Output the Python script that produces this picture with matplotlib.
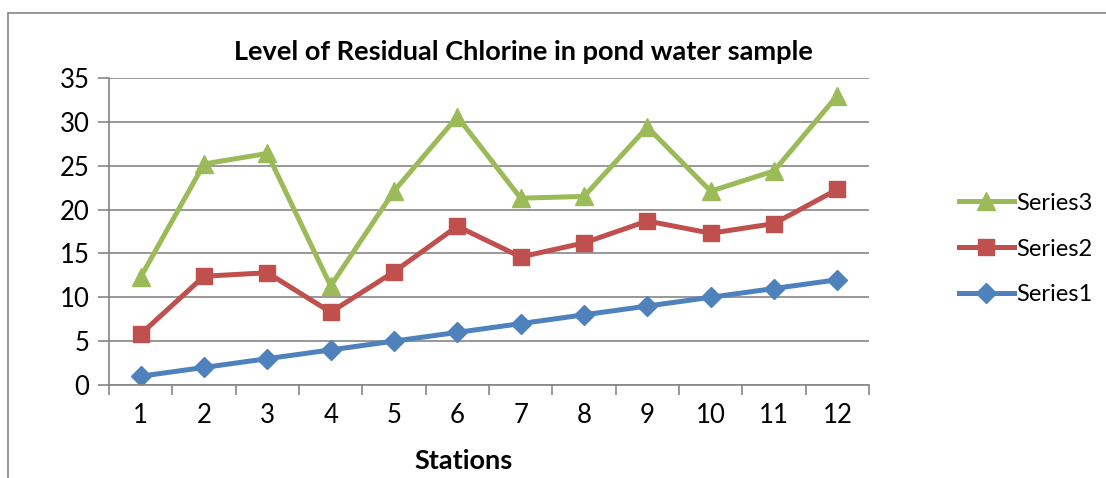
import matplotlib.pyplot as plt
from matplotlib.patches import Rectangle

stations = ["1", "2", "3", "4", "5", "6", "7", "8", "9", "10", "11", "12"]
series1 = [1, 2, 3, 4, 5, 6, 7, 8, 9, 10, 11, 12]
series2 = [5.8, 12.4, 12.8, 8.3, 12.9, 18.1, 14.6, 16.2, 18.7, 17.3, 18.4, 22.3]
series3 = [12.3, 25.2, 26.4, 11.3, 22.1, 30.6, 21.3, 21.5, 29.4, 22.1, 24.4, 33.0]

plt.rcParams['font.family'] = ['Lato', 'DejaVu Sans']

fig = plt.figure(figsize=(11.06, 4.78), dpi=100)
W, H = 1106, 478
# outer chart frame
fig.patches.append(Rectangle((8 / W, -0.1), 1.2, 1 - 13 / H + 0.1, transform=fig.transFigure,
                             fill=False, edgecolor='#868686', linewidth=1.2))

ax = fig.add_axes([109 / W, 1 - 385 / H, (869 - 109) / W, (385 - 78) / H])

x = [i + 0.5 for i in range(len(stations))]
ax.plot(x, series3, color='#9BBB59', lw=3.6, marker='^', ms=13, label='Series3')
ax.plot(x, series2, color='#C0504D', lw=3.6, marker='s', ms=11, label='Series2')
ax.plot(x, series1, color='#4F81BD', lw=3.6, marker='D', ms=10, label='Series1')

ax.set_xlim(0, 12)
ax.set_ylim(0, 35)
ax.set_yticks(range(0, 36, 5))
ax.set_xticks(range(0, 13))
ax.set_xticklabels([])
ax.set_xticks(x, minor=True)
ax.set_xticklabels(stations, minor=True)
ax.tick_params(axis='x', which='major', length=7, color='#868686', width=1.2, direction='out')
ax.tick_params(axis='x', which='minor', length=0, pad=13, labelsize=18.5)
ax.tick_params(axis='y', length=8, color='#868686', width=1.2, labelsize=18.5, pad=6)
ax.grid(axis='y', color='#868686', lw=1.2)
ax.set_axisbelow(True)
for s in ['top', 'right']:
    ax.spines[s].set_visible(False)
for s in ['left', 'bottom']:
    ax.spines[s].set_color('#868686')
    ax.spines[s].set_linewidth(1.2)

fig.text(523 / W, 1 - 52 / H, 'Level of Residual Chlorine in pond water sample',
         ha='center', va='center', fontsize=19.5, fontweight='bold')
fig.text(464 / W, 1 - 461 / H, 'Stations', ha='center', va='center',
         fontsize=19.5, fontweight='bold')

fig.legend(loc='center left', bbox_to_anchor=(938 / W, 1 - 249 / H), frameon=False,
           fontsize=17, handlelength=2.3, handletextpad=0.1, labelspacing=1.05)

fig.savefig('out.png', dpi=100)
